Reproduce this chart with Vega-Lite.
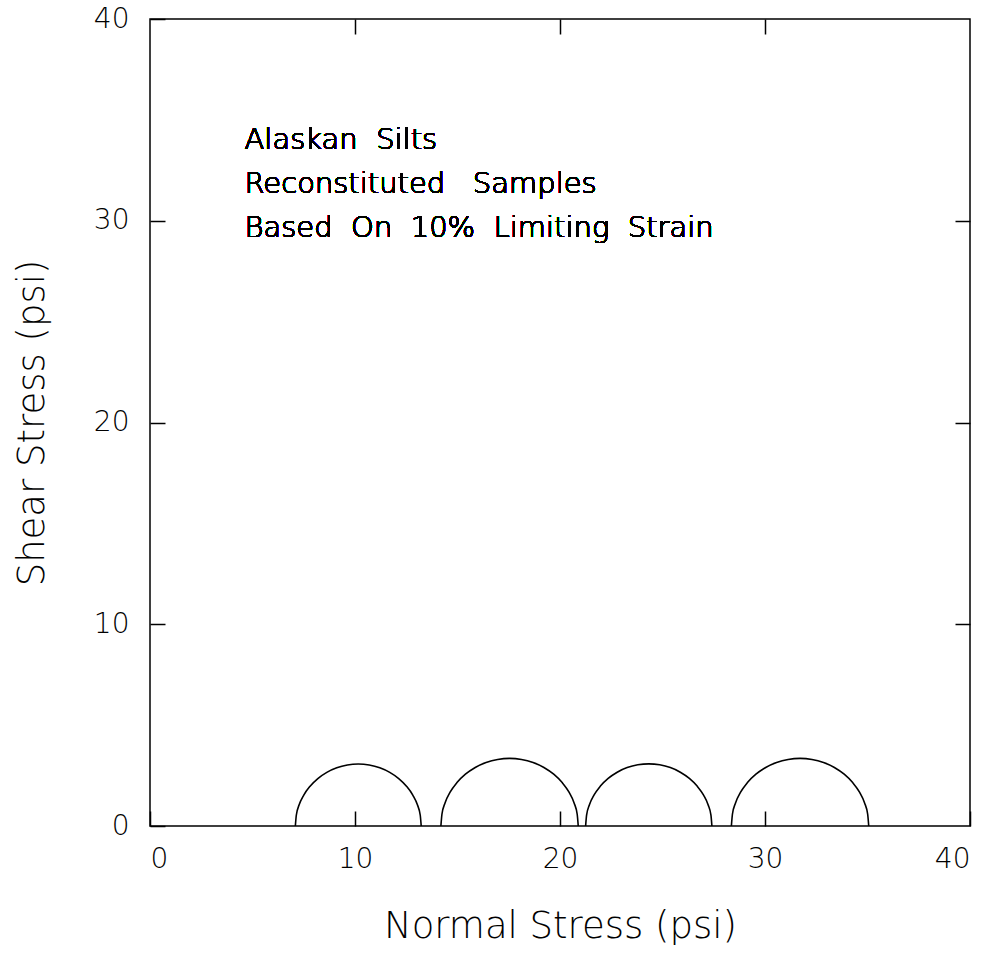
{
  "$schema": "https://vega.github.io/schema/vega-lite/v6.json",
  "width": 820,
  "height": 807,
  "autosize": "none",
  "padding": {"left": 150, "top": 19, "right": 25, "bottom": 127},
  "background": "white",
  "config": {
    "view": {"stroke": "black", "strokeWidth": 1.5},
    "font": "DejaVu Sans",
    "axis": {
      "grid": false,
      "domain": false,
      "tickColor": "black",
      "tickWidth": 1.5,
      "tickSize": -15,
      "labelFont": "DejaVu Sans",
      "labelFontWeight": 200,
      "labelFontSize": 28,
      "labelColor": "black",
      "titleFont": "DejaVu Sans",
      "titleFontWeight": 200,
      "titleFontSize": 37,
      "titleColor": "black"
    }
  },
  "data": {
    "values": [
      {"circle": 1, "x": 7.09, "y": 0}, {"circle": 1, "x": 7.137, "y": 0.533}, {"circle": 1, "x": 7.275, "y": 1.05}, {"circle": 1, "x": 7.501, "y": 1.535}, {"circle": 1, "x": 7.808, "y": 1.973}, {"circle": 1, "x": 8.187, "y": 2.352}, {"circle": 1, "x": 8.625, "y": 2.659}, {"circle": 1, "x": 9.11, "y": 2.885}, {"circle": 1, "x": 9.627, "y": 3.023}, {"circle": 1, "x": 10.16, "y": 3.07}, {"circle": 1, "x": 10.693, "y": 3.023}, {"circle": 1, "x": 11.21, "y": 2.885}, {"circle": 1, "x": 11.695, "y": 2.659}, {"circle": 1, "x": 12.133, "y": 2.352}, {"circle": 1, "x": 12.512, "y": 1.973}, {"circle": 1, "x": 12.819, "y": 1.535}, {"circle": 1, "x": 13.045, "y": 1.05}, {"circle": 1, "x": 13.183, "y": 0.533}, {"circle": 1, "x": 13.23, "y": 0},
      {"circle": 2, "x": 14.19, "y": 0}, {"circle": 2, "x": 14.241, "y": 0.582}, {"circle": 2, "x": 14.392, "y": 1.146}, {"circle": 2, "x": 14.639, "y": 1.675}, {"circle": 2, "x": 14.974, "y": 2.153}, {"circle": 2, "x": 15.387, "y": 2.566}, {"circle": 2, "x": 15.865, "y": 2.901}, {"circle": 2, "x": 16.394, "y": 3.148}, {"circle": 2, "x": 16.958, "y": 3.299}, {"circle": 2, "x": 17.54, "y": 3.35}, {"circle": 2, "x": 18.122, "y": 3.299}, {"circle": 2, "x": 18.686, "y": 3.148}, {"circle": 2, "x": 19.215, "y": 2.901}, {"circle": 2, "x": 19.693, "y": 2.566}, {"circle": 2, "x": 20.106, "y": 2.153}, {"circle": 2, "x": 20.441, "y": 1.675}, {"circle": 2, "x": 20.688, "y": 1.146}, {"circle": 2, "x": 20.839, "y": 0.582}, {"circle": 2, "x": 20.89, "y": 0},
      {"circle": 3, "x": 21.25, "y": 0}, {"circle": 3, "x": 21.297, "y": 0.535}, {"circle": 3, "x": 21.436, "y": 1.053}, {"circle": 3, "x": 21.663, "y": 1.54}, {"circle": 3, "x": 21.971, "y": 1.98}, {"circle": 3, "x": 22.35, "y": 2.359}, {"circle": 3, "x": 22.79, "y": 2.667}, {"circle": 3, "x": 23.277, "y": 2.894}, {"circle": 3, "x": 23.795, "y": 3.033}, {"circle": 3, "x": 24.33, "y": 3.08}, {"circle": 3, "x": 24.865, "y": 3.033}, {"circle": 3, "x": 25.383, "y": 2.894}, {"circle": 3, "x": 25.87, "y": 2.667}, {"circle": 3, "x": 26.31, "y": 2.359}, {"circle": 3, "x": 26.689, "y": 1.98}, {"circle": 3, "x": 26.997, "y": 1.54}, {"circle": 3, "x": 27.224, "y": 1.053}, {"circle": 3, "x": 27.363, "y": 0.535}, {"circle": 3, "x": 27.41, "y": 0},
      {"circle": 4, "x": 28.36, "y": 0}, {"circle": 4, "x": 28.411, "y": 0.582}, {"circle": 4, "x": 28.562, "y": 1.146}, {"circle": 4, "x": 28.809, "y": 1.675}, {"circle": 4, "x": 29.144, "y": 2.153}, {"circle": 4, "x": 29.557, "y": 2.566}, {"circle": 4, "x": 30.035, "y": 2.901}, {"circle": 4, "x": 30.564, "y": 3.148}, {"circle": 4, "x": 31.128, "y": 3.299}, {"circle": 4, "x": 31.71, "y": 3.35}, {"circle": 4, "x": 32.292, "y": 3.299}, {"circle": 4, "x": 32.856, "y": 3.148}, {"circle": 4, "x": 33.385, "y": 2.901}, {"circle": 4, "x": 33.863, "y": 2.566}, {"circle": 4, "x": 34.276, "y": 2.153}, {"circle": 4, "x": 34.611, "y": 1.675}, {"circle": 4, "x": 34.858, "y": 1.146}, {"circle": 4, "x": 35.009, "y": 0.582}, {"circle": 4, "x": 35.06, "y": 0}
    ]
  },
  "layer": [
    {
      "mark": {"type": "line", "interpolate": "monotone", "color": "black", "strokeWidth": 1.6},
      "encoding": {
        "x": {
          "field": "x", "type": "quantitative",
          "scale": {"domain": [0, 40], "nice": false, "zero": false},
          "axis": {
            "orient": "bottom",
            "title": "Normal Stress (psi)",
            "values": [0, 10, 20, 30, 40],
            "labelPadding": 34,
            "labelBaseline": "top",
            "titleY": 111,
            "titleBaseline": "alphabetic"
          }
        },
        "y": {
          "field": "y", "type": "quantitative",
          "scale": {"domain": [0, 40], "nice": false, "zero": false},
          "axis": {
            "orient": "left",
            "title": "Shear Stress (psi)",
            "values": [0, 10, 20, 30, 40],
            "labelPadding": 36,
            "titleX": -107,
            "titleY": 403.5,
            "titleBaseline": "alphabetic"
          }
        },
        "detail": {"field": "circle", "type": "nominal"}
      }
    },
    {
      "mark": {"type": "line", "opacity": 0},
      "encoding": {
        "x": {
          "field": "x", "type": "quantitative",
          "axis": {"orient": "top", "title": null, "labels": false, "values": [10, 20, 30]}
        },
        "y": {
          "field": "y", "type": "quantitative",
          "axis": {"orient": "right", "title": null, "labels": false, "values": [10, 20, 30]}
        },
        "detail": {"field": "circle", "type": "nominal"}
      }
    },
    {
      "mark": {
        "type": "text",
        "text": "Alaskan\u00a0 Silts\nReconstituted\u00a0\u00a0 Samples\nBased\u00a0 On\u00a0 10%\u00a0 Limiting\u00a0 Strain",
        "lineBreak": "\n",
        "lineHeight": 44,
        "align": "left",
        "baseline": "alphabetic",
        "font": "DejaVu Sans",
        "fontWeight": 200,
        "fontSize": 29,
        "color": "black"
      },
      "encoding": {
        "x": {"datum": 4.61, "type": "quantitative", "axis": null},
        "y": {"datum": 33.56, "type": "quantitative", "axis": null}
      }
    }
  ],
  "resolve": {"axis": {"x": "independent", "y": "independent"}}
}
